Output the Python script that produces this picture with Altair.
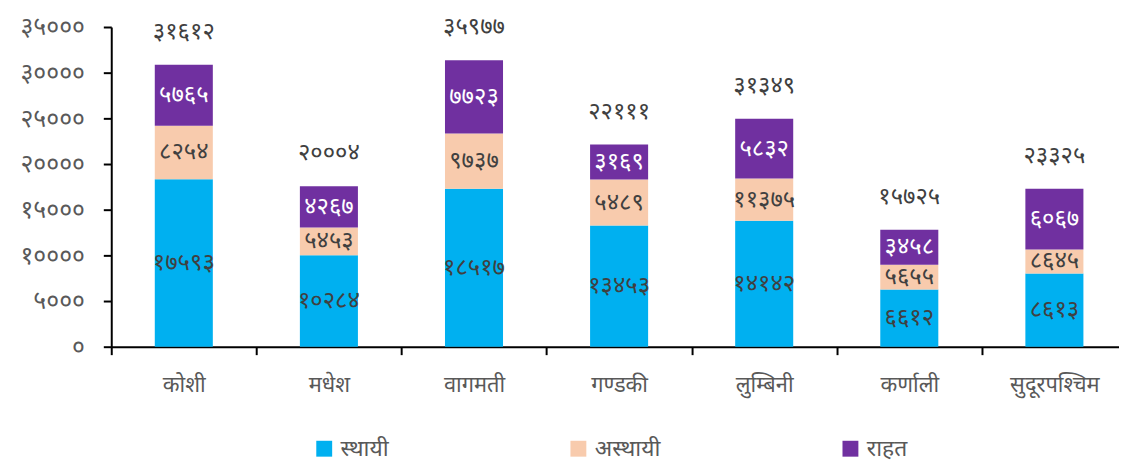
import json
import altair as alt
import pandas as pd

provinces = ["कोशी", "मधेश", "वागमती", "गण्डकी", "लुम्बिनी", "कर्णाली", "सुदूरपश्चिम"]
series = ["स्थायी", "अस्थायी", "राहत"]
colors = ["#00B0F0", "#F8CBAD", "#7030A0"]
label_colors = ["#404040", "#404040", "#FFFFFF"]

# bar segment heights as drawn in the picture
sthayi_bar = [18340, 10000, 17280, 13260, 13800, 6270, 8010]
asthayi_bar = [5840, 3040, 6050, 5040, 4610, 2690, 2640]
rahat_bar = [6700, 4530, 8040, 3840, 6550, 3840, 6630]

# values printed on the segments and above the bars
sthayi_label = [17593, 10284, 18517, 13453, 14142, 6612, 8613]
asthayi_label = [8254, 5453, 9737, 5489, 11375, 5655, 8645]
rahat_label = [5765, 4267, 7723, 3169, 5832, 3458, 6067]
total_label = [31612, 20004, 35977, 22111, 31349, 15725, 23325]

y_ticks = [0, 5000, 10000, 15000, 20000, 25000, 30000, 35000]

DEV = str.maketrans("0123456789", "०१२३४५६७८९")


def dev(n):
    return str(n).translate(DEV)


rows = []
tops = []
for i, p in enumerate(provinces):
    start = 0
    for s, h, lab, lc in zip(series,
                             [sthayi_bar[i], asthayi_bar[i], rahat_bar[i]],
                             [sthayi_label[i], asthayi_label[i], rahat_label[i]],
                             label_colors):
        rows.append({"province": p, "series": s, "start": start, "end": start + h,
                     "mid": start + h / 2, "label": dev(lab), "lc": lc})
        start += h
    tops.append({"province": p, "top": start, "label": dev(total_label[i])})

df = pd.DataFrame(rows)
tdf = pd.DataFrame(tops)

FONT = "Noto Sans"
label_map = json.dumps({str(v): dev(v) for v in y_ticks}, ensure_ascii=False)

x_enc = alt.X("province:N", sort=provinces,
              scale=alt.Scale(range=[0, 1023], paddingInner=0, paddingOuter=0),
              axis=alt.Axis(title=None, domainColor="black", domainWidth=2,
                            tickColor="black", tickWidth=2, tickSize=8,
                            tickBand="extent", labelAngle=0,
                            labelFontSize=22, labelColor="#595959", labelFont=FONT,
                            labelPadding=30, labelBaseline="middle"))

y_scale = alt.Scale(domain=[0, 35000], nice=False)

bars = alt.Chart(df).mark_bar(width={"band": 0.4}).encode(
    x=x_enc,
    y=alt.Y("start:Q", scale=y_scale,
            axis=alt.Axis(title=None, values=y_ticks, grid=False,
                          domainColor="black", domainWidth=2,
                          tickColor="black", tickWidth=2, tickSize=8,
                          labelFontSize=25, labelColor="#595959", labelFont=FONT,
                          labelPadding=19, labelExpr=f"{label_map}[datum.value]")),
    y2="end:Q",
    color=alt.Color("series:N", scale=alt.Scale(domain=series, range=colors),
                    legend=alt.Legend(title=None, orient="none", legendX=203, legendY=413,
                                      direction="horizontal", symbolType="square",
                                      symbolSize=256, symbolStrokeWidth=0,
                                      labelFontSize=23, labelColor="#595959", labelFont=FONT,
                                      columnPadding=179, labelOffset=5)),
    order=alt.Order("start:Q"),
)

seg_text = alt.Chart(df).mark_text(fontSize=24, font=FONT, baseline="middle").encode(
    x=alt.X("province:N", sort=provinces),
    y=alt.Y("mid:Q"),
    text="label:N",
    color=alt.Color("lc:N", scale=None),
)

tot_text = alt.Chart(tdf).mark_text(fontSize=24, font=FONT, baseline="middle", dy=-33,
                                    color="#404040").encode(
    x=alt.X("province:N", sort=provinces),
    y=alt.Y("top:Q"),
    text="label:N",
)

chart = alt.layer(bars, seg_text, tot_text).properties(
    width=1015, height=322,
    autosize=alt.AutoSizeParams(type="none"),
    padding={"left": 104, "top": 17.5, "right": 0, "bottom": 116.5},
).configure_view(stroke=None)

chart.save("out.html", embed_options={"renderer": "svg", "actions": False})
